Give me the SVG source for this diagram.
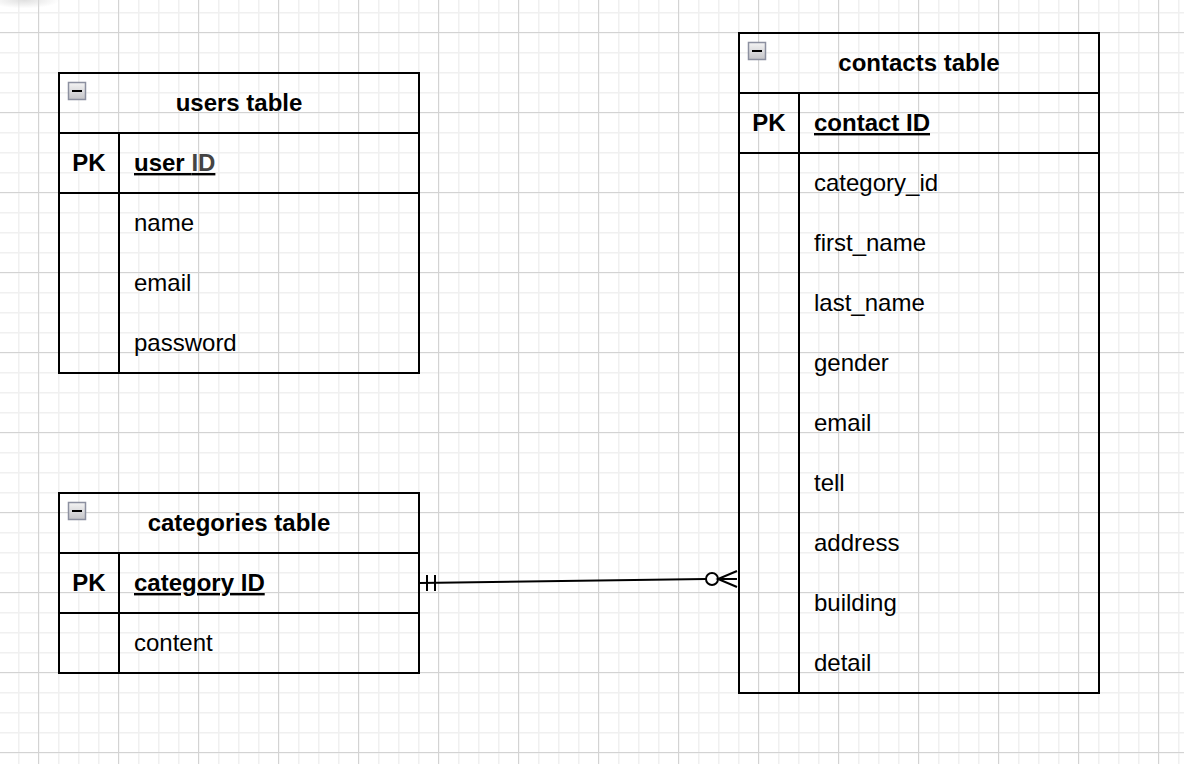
<svg xmlns="http://www.w3.org/2000/svg" width="1184" height="764" viewBox="0 0 1184 764">
<defs>
<pattern id="minor" x="-2" y="12" width="20" height="20" patternUnits="userSpaceOnUse">
<path d="M0.5 0V20M0 0.5H20" stroke="#f0f0f0" stroke-width="2" fill="none"/>
</pattern>
<pattern id="major" x="38" y="32" width="80" height="80" patternUnits="userSpaceOnUse">
<path d="M0.5 0V80M0 0.5H80" stroke="#d3d3d3" stroke-width="1" fill="none"/>
</pattern>
<linearGradient id="btn" x1="0" y1="0" x2="0" y2="1">
<stop offset="0" stop-color="#f4f4f4"/>
<stop offset="1" stop-color="#c4c4c8"/>
</linearGradient>
<radialGradient id="smudge" cx="0.4" cy="0" r="0.6">
<stop offset="0" stop-color="#d8d8d8" stop-opacity="0.8"/>
<stop offset="1" stop-color="#d8d8d8" stop-opacity="0"/>
</radialGradient>
<g id="collapse">
<rect x="0.5" y="0.5" width="17" height="17" fill="url(#btn)" stroke="#8c90a0" stroke-width="1.5"/>
<rect x="4" y="8" width="10" height="2" fill="#000"/>
</g>
</defs>
<style>
.box{fill:none;stroke:#000;stroke-width:2}
.t{font-family:"Liberation Sans",Arial,Helvetica,sans-serif;font-size:24px;fill:#000}
.b{font-weight:bold}
.u{text-decoration:underline}
.c{text-anchor:middle}
</style>
<rect width="1184" height="764" fill="#fff"/>
<rect width="1184" height="764" fill="url(#minor)"/>
<rect width="1184" height="764" fill="url(#major)"/>
<rect x="0" y="0" width="60" height="14" fill="url(#smudge)"/>

<g id="users">
<rect class="box" x="59" y="73" width="360" height="300"/>
<path class="box" d="M59 133H419M59 193H419M119 133V373"/>
<use href="#collapse" x="68" y="82"/>
<text class="t b c" x="239" y="111">users table</text>
<text class="t b c" x="89" y="171">PK</text>
<text class="t b u" x="134" y="171">user <tspan fill="#444">ID</tspan></text>
<text class="t" x="134" y="231">name</text>
<text class="t" x="134" y="291">email</text>
<text class="t" x="134" y="351">password</text>
</g>

<g id="categories">
<rect class="box" x="59" y="493" width="360" height="180"/>
<path class="box" d="M59 553H419M59 613H419M119 553V673"/>
<use href="#collapse" x="68" y="502"/>
<text class="t b c" x="239" y="531">categories table</text>
<text class="t b c" x="89" y="591">PK</text>
<text class="t b u" x="134" y="591">category ID</text>
<text class="t" x="134" y="651">content</text>
</g>

<g id="contacts">
<rect class="box" x="739" y="33" width="360" height="660"/>
<path class="box" d="M739 93H1099M739 153H1099M799 93V693"/>
<use href="#collapse" x="748" y="42"/>
<text class="t b c" x="919" y="71">contacts table</text>
<text class="t b c" x="769" y="131">PK</text>
<text class="t b u" x="814" y="131">contact ID</text>
<text class="t" x="814" y="191">category_id</text>
<text class="t" x="814" y="251">first_name</text>
<text class="t" x="814" y="311">last_name</text>
<text class="t" x="814" y="371">gender</text>
<text class="t" x="814" y="431">email</text>
<text class="t" x="814" y="491">tell</text>
<text class="t" x="814" y="551">address</text>
<text class="t" x="814" y="611">building</text>
<text class="t" x="814" y="671">detail</text>
</g>

<g id="connectors" fill="none" stroke="#000" stroke-width="2">
<path d="M420 583L706 579"/>
<path d="M427 575V591M435 575V591"/>
<circle cx="712" cy="579" r="6" fill="#fff"/>
<path d="M737 571L718 579L737 587M718 579H737"/>
</g>
</svg>
